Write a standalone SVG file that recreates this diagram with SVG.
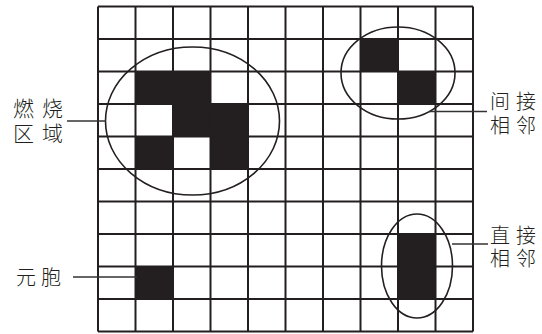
<svg xmlns="http://www.w3.org/2000/svg" width="542" height="334" viewBox="0 0 542 334">
<style>
.cell{fill:#231f20}
.grid{stroke:#231f20;stroke-width:2;fill:none}
.ell{stroke:#231f20;stroke-width:1.6;fill:none}
.lead{stroke:#333;stroke-width:1.3;fill:none}
.lbl{font-family:"Liberation Sans","Noto Sans CJK SC","Noto Sans CJK JP",sans-serif;font-weight:300;fill:#231f20;font-size:20px;letter-spacing:6px}
</style>
<rect width="542" height="334" fill="#fff"/>
<g id="cells">
<rect class="cell" x="135.5" y="71.5" width="75" height="32.5"/>
<rect class="cell" x="173" y="104" width="75" height="32.5"/>
<rect class="cell" x="135.5" y="136.5" width="37.5" height="32.5"/>
<rect class="cell" x="210.5" y="136.5" width="37.5" height="32.5"/>
<rect class="cell" x="360.5" y="39" width="37.5" height="32.5"/>
<rect class="cell" x="398" y="71.5" width="37.5" height="32.5"/>
<rect class="cell" x="398" y="234" width="37.5" height="65"/>
<rect class="cell" x="135.5" y="266.5" width="37.5" height="32.5"/>
</g>
<g id="grid" class="grid">
<path d="M98 6.5V331.5M135.5 6.5V331.5M173 6.5V331.5M210.5 6.5V331.5M248 6.5V331.5M285.5 6.5V331.5M323 6.5V331.5M360.5 6.5V331.5M398 6.5V331.5M435.5 6.5V331.5M473 6.5V331.5"/>
<path d="M98 6.5H473M98 39H473M98 71.5H473M98 104H473M98 136.5H473M98 169H473M98 201.5H473M98 234H473M98 266.5H473M98 299H473M98 331.5H473"/>
</g>
<g id="burning-region">
<ellipse class="ell" cx="192.5" cy="121" rx="87" ry="74"/>
</g>
<g id="indirect-neighbor">
<ellipse class="ell" cx="398" cy="73" rx="57" ry="46"/>
</g>
<g id="direct-neighbor">
<ellipse class="ell" cx="417" cy="266" rx="35.5" ry="52"/>
</g>
<g id="connectors">
<path class="lead" d="M67 121H106"/>
<path class="lead" d="M429 111.5H487"/>
<path class="lead" d="M452 244H488"/>
<path class="lead" d="M73 277H137"/>
</g>
<g id="label-burning">
<text class="lbl" style="font-size:21px;letter-spacing:8px"><tspan x="13" y="115.5">燃烧</tspan><tspan x="13" y="140.5">区域</tspan></text>
</g>
<g id="label-indirect">
<text class="lbl"><tspan x="490" y="108.5">间接</tspan><tspan x="490" y="132.5">相邻</tspan></text>
</g>
<g id="label-direct">
<text class="lbl"><tspan x="490" y="243">直接</tspan><tspan x="490" y="266">相邻</tspan></text>
</g>
<g id="label-cell">
<text class="lbl" x="16" y="285" style="letter-spacing:5px">元胞</text>
</g>
</svg>
